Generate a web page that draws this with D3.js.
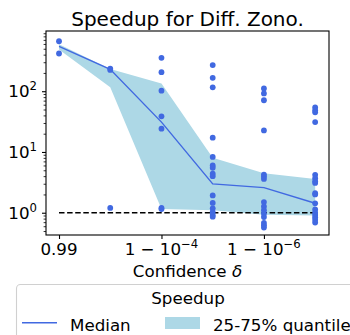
<!DOCTYPE html>
<html>
<head>
<meta charset="utf-8">
<script src="https://cdn.jsdelivr.net/npm/d3@7"></script>
<style>
  html, body { margin: 0; padding: 0; background: #fff; }
  svg { display: block; font-family: "DejaVu Sans", sans-serif; }
</style>
</head>
<body>
<svg id="chart" width="350" height="335"></svg>
<script>
// ---- data ----
const xPositions = [2, 3, 4, 5, 6, 7];            // -log10(1 - δ)
const medianVals = [545, 230, 31, 2.98, 2.59, 1.43];
const q25Vals    = [485, 116, 1.15, 1.1, 0.93, 0.9];
const q75Vals    = [595, 232, 134, 8.0, 4.46, 3.6];
const pointsX2 = [664, 418];
const pointsX3 = [236, 224, 1.2];
const pointsX4 = [355, 206, 102, 38.6, 24.2, 1.2, 1.15];
const pointsX5 = [269, 166, 116, 17.2, 8.3, 6.0, 5.5, 4.4, 4.0, 1.93, 1.45, 1.18, 1.03, 0.92, 0.86];
const pointsX6 = [111, 92, 71, 22.6, 4.25, 3.94, 3.6, 1.5, 1.27, 1.1, 0.97, 0.85, 0.68, 0.62, 0.57];
const pointsX7 = [54, 48.5, 45, 31, 4.2, 3.7, 3.3, 3.1, 2.1, 2.0, 1.43, 1.13, 1.0, 0.92, 0.84, 0.77, 0.69];
const pointGroups = [pointsX2, pointsX3, pointsX4, pointsX5, pointsX6, pointsX7];
const xTickValues = [2, 4, 6];
const xTickLabels = [["0.99", null], ["1 \u2212 10", "\u22124"], ["1 \u2212 10", "\u22126"]];
const yTickValues = [1, 10, 100];
const yTickExps = ["0", "1", "2"];
const baseline = 1;
const titleText = "Speedup for Diff. Zono.";
const xLabelText = "Confidence ";
const xLabelSymbol = "\u03b4";
const legendTitle = "Speedup";
const legendLabels = ["Median", "25-75% quantile"];

// ---- styling ----
const blue = "#4169e1";
const bandColor = "#add8e6";
const fs = 16.7;

const svg = d3.select("#chart");
const L = 46, R = 329, T = 31, B = 235;

const x = d3.scaleLinear().domain([1.746, 7.27]).range([L, R]);
const y = d3.scaleLog().domain([0.43, 980]).range([B, T]);

// band
const bandData = xPositions.map((v, i) => ({x: v, lo: q25Vals[i], hi: q75Vals[i], med: medianVals[i]}));
svg.append("path")
  .datum(bandData)
  .attr("fill", bandColor)
  .attr("d", d3.area().x(d => x(d.x)).y0(d => y(d.lo)).y1(d => y(d.hi)));

// median line
svg.append("path")
  .datum(bandData)
  .attr("fill", "none")
  .attr("stroke", blue)
  .attr("stroke-width", 1.4)
  .attr("d", d3.line().x(d => x(d.x)).y(d => y(d.med)));

// baseline dashed
svg.append("line")
  .attr("x1", x(xPositions[0])).attr("x2", x(xPositions[xPositions.length - 1]))
  .attr("y1", y(baseline)).attr("y2", y(baseline))
  .attr("stroke", "#000").attr("stroke-width", 1.6)
  .attr("stroke-dasharray", "5.5,2.6");

// points
const pts = [];
pointGroups.forEach((g, i) => g.forEach(v => pts.push({x: xPositions[i], v})));
svg.append("g").selectAll("circle").data(pts).join("circle")
  .attr("cx", d => x(d.x)).attr("cy", d => y(d.v)).attr("r", 2.9)
  .attr("fill", blue);

// frame
svg.append("rect").attr("x", L).attr("y", T).attr("width", R - L).attr("height", B - T)
  .attr("fill", "none").attr("stroke", "#000").attr("stroke-width", 1.1);

// y axis major ticks
const yAxis = d3.axisLeft(y).tickValues(yTickValues).tickSize(4).tickFormat("");
const gy = svg.append("g").attr("transform", `translate(${L},0)`).call(yAxis);
gy.select(".domain").remove();
gy.selectAll("line").attr("stroke-width", 1.1);
// minor ticks
const minorVals = [];
[0.1, 1, 10, 100].forEach(dec => { for (let k = 2; k <= 9; k++) { const v = k * dec; if (v >= 0.43 && v <= 980) minorVals.push(v); } });
const gym = svg.append("g").attr("transform", `translate(${L},0)`)
  .call(d3.axisLeft(y).tickValues(minorVals).tickSize(2.4).tickFormat(""));
gym.select(".domain").remove();
gym.selectAll("line").attr("stroke-width", 0.8);
// y labels
yTickValues.forEach((v, i) => {
  const t = svg.append("text").attr("x", 37).attr("y", y(v) + 6)
    .attr("text-anchor", "end").attr("font-size", fs).attr("fill", "#000");
  t.append("tspan").text("10");
  t.append("tspan").attr("font-size", fs * 0.7).attr("dy", -7).text(yTickExps[i]);
});

// x axis
const xAxis = d3.axisBottom(x).tickValues(xTickValues).tickSize(4).tickFormat("");
const gx = svg.append("g").attr("transform", `translate(0,${B})`).call(xAxis);
gx.select(".domain").remove();
gx.selectAll("line").attr("stroke-width", 1.1);
xTickValues.forEach((v, i) => {
  const t = svg.append("text").attr("x", x(v)).attr("y", 255)
    .attr("text-anchor", "middle").attr("font-size", fs).attr("fill", "#000");
  t.append("tspan").text(xTickLabels[i][0]);
  if (xTickLabels[i][1]) t.append("tspan").attr("font-size", fs * 0.7).attr("dy", -7).text(xTickLabels[i][1]);
});

// title and label
svg.append("text").attr("x", (L + R) / 2).attr("y", 26).attr("text-anchor", "middle")
  .attr("font-size", 20).text(titleText);
const xl = svg.append("text").attr("x", (L + R) / 2).attr("y", 276.5).attr("text-anchor", "middle")
  .attr("font-size", fs);
xl.append("tspan").text(xLabelText);
xl.append("tspan").attr("font-style", "italic").text(xLabelSymbol);

// legend
const lg = svg.append("g");
lg.append("rect").attr("x", 16.5).attr("y", 284.5).attr("width", 344).attr("height", 70).attr("rx", 4)
  .attr("fill", "#fff").attr("stroke", "#d0d0d0").attr("stroke-width", 1.1);
lg.append("text").attr("x", 188).attr("y", 304).attr("text-anchor", "middle").attr("font-size", fs).text(legendTitle);
lg.append("line").attr("x1", 22).attr("x2", 57).attr("y1", 322.7).attr("y2", 322.7)
  .attr("stroke", blue).attr("stroke-width", 1.4);
lg.append("text").attr("x", 70).attr("y", 330.5).attr("font-size", fs).text(legendLabels[0]);
lg.append("rect").attr("x", 165).attr("y", 317).attr("width", 35).attr("height", 12).attr("fill", bandColor);
lg.append("text").attr("x", 213).attr("y", 330.5).attr("font-size", fs).text(legendLabels[1]);
</script>
</body>
</html>
